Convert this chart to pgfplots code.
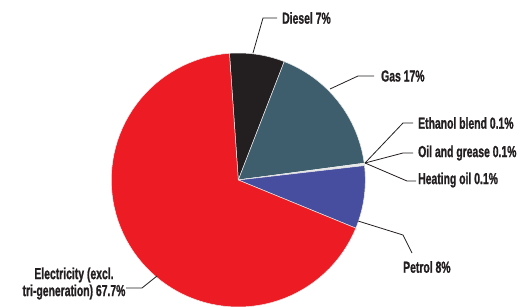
\documentclass[border=0pt]{standalone}
\usepackage{fontspec}
\usepackage{pgfplots}
\pgfplotsset{compat=1.18}
\newfontfamily\lab{Liberation Sans}[FakeStretch=0.65, FakeBold=1]
\definecolor{cred}{HTML}{ED1C24}
\definecolor{cdiesel}{HTML}{231F20}
\definecolor{cgas}{HTML}{3E5E6E}
\definecolor{cpetrol}{HTML}{474EA0}
\definecolor{ctiny}{HTML}{C8CCD0}
\definecolor{ctext}{HTML}{231F20}
\begin{document}
\begin{tikzpicture}
\begin{axis}[
  width=520pt, height=306pt, scale only axis,
  xmin=0, xmax=520, ymin=0, ymax=306,
  hide axis, clip=false,
]
% shares in percent, clockwise from the top
\def\a{94}
\pgfplotsforeachungrouped \pct/\col in {7/cdiesel, 17/cgas, 0.1/ctiny, 0.1/ctiny, 0.1/ctiny, 8/cpetrol, 67.7/cred}{
  \pgfmathsetmacro\b{\a - 3.6*\pct}
  \edef\temp{\noexpand\addplot[fill=\col, draw=white!85!gray, line width=0.5pt, domain=\b:\a, samples=80, variable=\noexpand\t] ({238.3+127*cos(\noexpand\t)},{126+127*sin(\noexpand\t)}) -- (axis cs:238.3,126) -- cycle;}
  \temp
  \global\let\a\b
}
\begin{scope}[every node/.style={font=\lab\bfseries\fontsize{16}{17}\selectfont, text=ctext, inner sep=0pt}]
\draw[ctext, line width=0.8pt] (axis cs:253,253) -- (axis cs:263,288) -- (axis cs:277,288);
\node[anchor=west] at (axis cs:282,288) {Diesel 7\%};
\draw[ctext, line width=0.8pt] (axis cs:330,217) -- (axis cs:358,230) -- (axis cs:374,230);
\node[anchor=west] at (axis cs:381,230) {Gas 17\%};
\draw[ctext, line width=0.8pt] (axis cs:365,143) -- (axis cs:403,183) -- (axis cs:413,183);
\node[anchor=west] at (axis cs:418,183) {Ethanol blend 0.1\%};
\draw[ctext, line width=0.8pt] (axis cs:365,143) -- (axis cs:403,153) -- (axis cs:413,153);
\node[anchor=west] at (axis cs:418,153) {Oil and grease 0.1\%};
\draw[ctext, line width=0.8pt] (axis cs:365,143) -- (axis cs:407,125) -- (axis cs:416,125);
\node[anchor=west] at (axis cs:418,126) {Heating oil 0.1\%};
\draw[ctext, line width=0.8pt] (axis cs:358,85) -- (axis cs:403,71) -- (axis cs:412,53);
\node[anchor=west] at (axis cs:403,39) {Petrol 8\%};
\draw[ctext, line width=0.8pt] (axis cs:157,30) -- (axis cs:142,18) -- (axis cs:126,18);
\node[align=center] at (axis cs:74,22.5) {Electricity (excl.\\tri-generation) 67.7\%};
\end{scope}
\end{axis}
\pgfresetboundingbox
\useasboundingbox (0,0) rectangle (520pt,306pt);
\end{tikzpicture}
\end{document}
